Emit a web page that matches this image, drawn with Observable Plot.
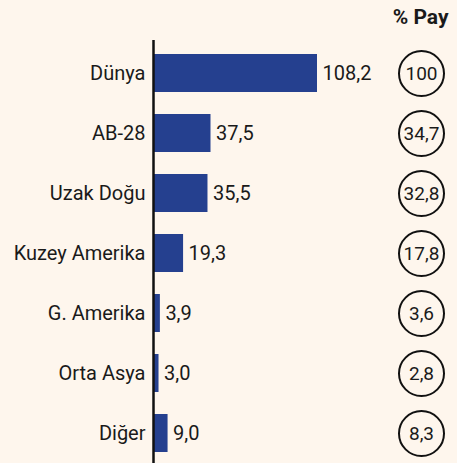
<!DOCTYPE html>
<html>
<head>
<meta charset="utf-8">
<script src="https://cdn.jsdelivr.net/npm/d3@7"></script>
<script src="https://cdn.jsdelivr.net/npm/@observablehq/plot@0.6"></script>
<style>
  html, body { margin: 0; padding: 0; background: #fef6ed; }
  #chart svg { display: block; }
</style>
</head>
<body>
<div id="chart"></div>
<script>
const regions = ["Dünya", "AB-28", "Uzak Doğu", "Kuzey Amerika", "G. Amerika", "Orta Asya", "Diğer"];
const values = [108.2, 37.5, 35.5, 19.3, 3.9, 3.0, 9.0];
const shares = [100, 34.7, 32.8, 17.8, 3.6, 2.8, 8.3];
const headerLabel = "% Pay";

const fmt = v => v.toLocaleString("tr-TR", {minimumFractionDigits: 1, maximumFractionDigits: 1});
const fmtShare = v => v === 100 ? "100" : v.toLocaleString("tr-TR", {minimumFractionDigits: 1, maximumFractionDigits: 1});

const data = regions.map((r, i) => ({region: r, value: values[i], share: shares[i]}));

const font = "Roboto, sans-serif";
const chart = Plot.plot({
  width: 457,
  height: 463,
  marginLeft: 154,
  marginRight: 13,
  marginTop: 43,
  marginBottom: 0,
  style: {background: "#fef6ed", fontFamily: font, fontSize: "20px", color: "#1a1a1a"},
  x: {domain: [0, 108.2 * 290 / 163], axis: null},
  y: {domain: regions, paddingInner: 0.367, paddingOuter: 0.183, label: null},
  marks: [
    Plot.axisY({tickSize: 0, tickPadding: 9, fontSize: 20, fill: "#1a1a1a"}),
    Plot.barX(data, {y: "region", x: "value", fill: "#25408f"}),
    Plot.text(data, {y: "region", x: "value", text: d => fmt(d.value), textAnchor: "start", dx: 5, fontSize: 20, fill: "#1a1a1a"}),
    Plot.ruleX([0], {stroke: "#111", strokeWidth: 2.5, dx: -1, insetTop: -3}),
    Plot.dot(data, {y: "region", frameAnchor: "right", dx: -23, r: 22.5, stroke: "#111", strokeWidth: 2, fill: "none"}),
    Plot.text(data, {y: "region", frameAnchor: "right", dx: -23, text: d => fmtShare(d.share), textAnchor: "middle", fontSize: 19, fill: "#1a1a1a"}),
    Plot.text([headerLabel], {frameAnchor: "top-right", dy: -34, dx: 4, textAnchor: "end", fontWeight: "bold", fontSize: 21, fill: "#1a1a1a"})
  ]
});
document.getElementById("chart").append(chart);
</script>
</body>
</html>
